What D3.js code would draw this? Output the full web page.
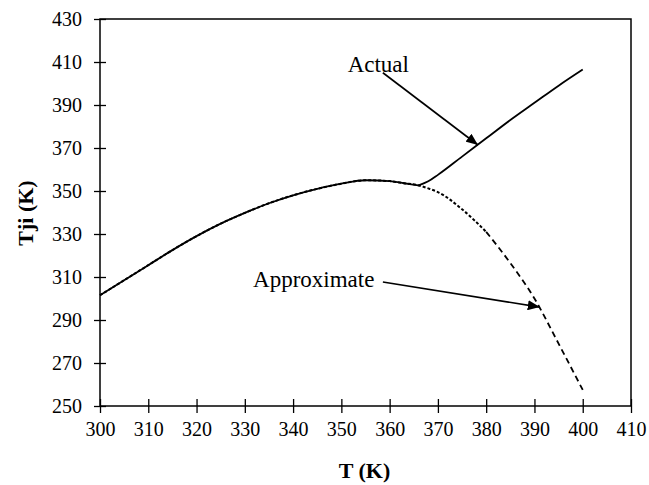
<!DOCTYPE html>
<html>
<head>
<meta charset="utf-8">
<script src="https://cdn.jsdelivr.net/npm/d3@7"></script>
<style>
  html, body { margin: 0; padding: 0; background: #fff; }
  svg { display: block; }
</style>
</head>
<body>
<svg id="chart" width="649" height="485"></svg>
<script>
// Temperature grid (K)
const temps = [300, 305, 310, 315, 320, 325, 330, 335, 340, 345, 350, 355, 360, 363, 366,
               368, 370, 375, 380, 385, 390, 395, 400];
// Tji, actual solution (K)
const actual = [301.5, 308.5, 315.5, 322.5, 329, 334.8, 339.8, 344.3, 348, 351, 353.4, 355, 354.6, 353.6, 352.6,
                354.5, 357.5, 366, 374.5, 383, 391, 399, 406.5];
// Tji, approximate solution (K)
const approximate = [301.5, 308.5, 315.5, 322.5, 329, 334.8, 339.8, 344.3, 348, 351, 353.4, 355, 354.6, 353.6, 352.6,
                     351.2, 349.5, 341.5, 331, 316.5, 300, 279, 257.5];

const xTicks = [300, 310, 320, 330, 340, 350, 360, 370, 380, 390, 400, 410];
const yTicks = [250, 270, 290, 310, 330, 350, 370, 390, 410, 430];

// Callout labels: text, text anchor point, arrow start, arrow tip (data units)
const callouts = [
  { text: "Actual",      at: [351.3, 405.3], from: [358.6, 405.0], to: [378.3, 371.4] },
  { text: "Approximate", at: [331.7, 305.3], from: [358.6, 307.7], to: [391.1, 296.0] }
];

const FONT = "'Liberation Serif', 'Times New Roman', Times, serif";

const svg = d3.select("#chart");
const x = d3.scaleLinear().domain([300, 410]).range([100, 631]);
const y = d3.scaleLinear().domain([250, 430]).range([406, 19]);

// Frame
svg.append("rect")
  .attr("x", x(300)).attr("y", y(430))
  .attr("width", x(410) - x(300)).attr("height", y(250) - y(430))
  .attr("fill", "none").attr("stroke", "#000").attr("stroke-width", 1.5);

// Axes with ticks crossing the axis line
const xAxis = svg.append("g").attr("transform", `translate(0,${y(250)})`)
  .call(d3.axisBottom(x).tickValues(xTicks).tickSize(0).tickPadding(0).tickFormat(d3.format("d")));
xAxis.select(".domain").remove();
xAxis.selectAll(".tick line").attr("y1", -7).attr("y2", 7).attr("stroke", "#000").attr("stroke-width", 1.3);
xAxis.selectAll(".tick text").attr("y", 30).attr("dy", 0);

const yAxis = svg.append("g").attr("transform", `translate(${x(300)},0)`)
  .call(d3.axisLeft(y).tickValues(yTicks).tickSize(0).tickPadding(0).tickFormat(d3.format("d")));
yAxis.select(".domain").remove();
yAxis.selectAll(".tick line").attr("x1", -6).attr("x2", 6).attr("stroke", "#000").attr("stroke-width", 1.3);
yAxis.selectAll(".tick text").attr("x", -18).attr("dy", "0.34em");

svg.selectAll("g").attr("font-family", FONT).attr("font-size", 20);
svg.selectAll(".tick text").attr("fill", "#000")
  .style("font-family", FONT).style("font-size", "20px");

// Axis titles
svg.append("text")
  .attr("x", (x(300) + x(410)) / 2 - 1).attr("y", 478)
  .attr("text-anchor", "middle")
  .style("font-family", FONT).style("font-size", "22px").style("font-weight", "bold")
  .text("T (K)");
svg.append("text")
  .attr("transform", "translate(33,213) rotate(-90)")
  .attr("text-anchor", "middle")
  .style("font-family", FONT).style("font-size", "22px").style("font-weight", "bold")
  .text("Tji (K)");

// Curves
const line = d3.line().x(d => x(d[0])).y(d => y(d[1])).curve(d3.curveMonotoneX);
const approxPts = temps.map((t, i) => [t, approximate[i]]);
const actualPts = temps.map((t, i) => [t, actual[i]]);

// Approximate curve: finely dotted through the bend, longer dashes toward 400 K
svg.append("path")
  .attr("d", line(approxPts.filter(d => d[0] <= 380)))
  .attr("fill", "none").attr("stroke", "#000").attr("stroke-width", 2)
  .attr("stroke-dasharray", "3,2");
svg.append("path")
  .attr("d", line(approxPts.filter(d => d[0] >= 380)))
  .attr("fill", "none").attr("stroke", "#000").attr("stroke-width", 1.8)
  .attr("stroke-dasharray", "6,4");

svg.append("path")
  .attr("d", line(actualPts.filter(d => d[0] <= 366)))
  .attr("fill", "none").attr("stroke", "#000").attr("stroke-width", 1.8);
svg.append("path")
  .attr("d", line(actualPts.filter(d => d[0] >= 366)))
  .attr("fill", "none").attr("stroke", "#000").attr("stroke-width", 1.8);

// Arrowhead
svg.append("defs").append("marker")
  .attr("id", "head").attr("viewBox", "0 0 12 10")
  .attr("refX", 12).attr("refY", 5)
  .attr("markerWidth", 12).attr("markerHeight", 10)
  .attr("markerUnits", "userSpaceOnUse").attr("orient", "auto")
  .append("path").attr("d", "M0,0 L12,5 L0,10 Z").attr("fill", "#000");

// Callouts
callouts.forEach(c => {
  svg.append("text")
    .attr("x", x(c.at[0])).attr("y", y(c.at[1]))
    .style("font-family", FONT).style("font-size", "23px").text(c.text);
  svg.append("line")
    .attr("x1", x(c.from[0])).attr("y1", y(c.from[1]))
    .attr("x2", x(c.to[0])).attr("y2", y(c.to[1]))
    .attr("stroke", "#000").attr("stroke-width", 1.6)
    .attr("marker-end", "url(#head)");
});
</script>
</body>
</html>
